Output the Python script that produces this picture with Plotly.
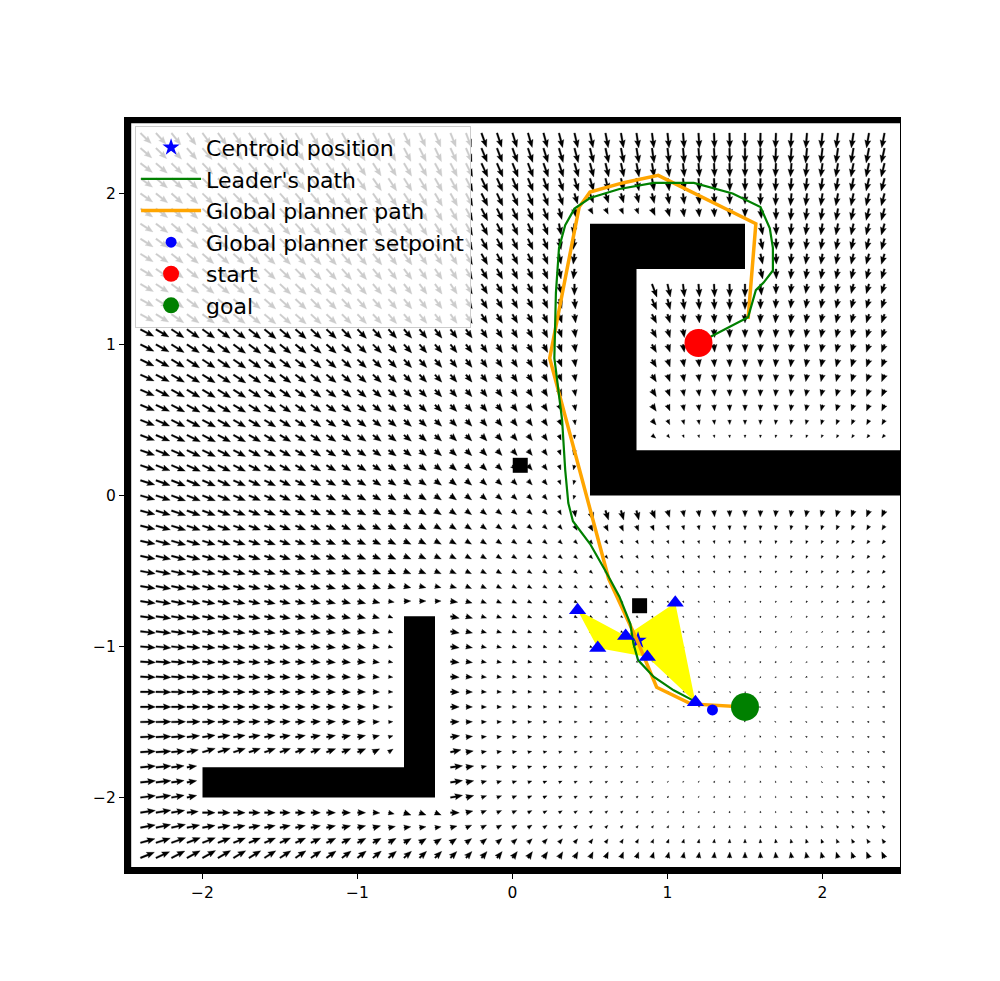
import numpy as np
import plotly.graph_objects as go

# ---------------------------------------------------------------------------
# Map / scene data
# ---------------------------------------------------------------------------
x_range = [-2.5, 2.5]
y_range = [-2.5, 2.5]
tick_vals = [-2, -1, 0, 1, 2]

# static obstacles as rectangles (x0, x1, y0, y1)
obstacle_rects = [
    (0.5, 0.8, 0.0, 1.8),     # vertical bar of the upper-right shape
    (0.5, 1.5, 1.5, 1.8),     # top bar
    (0.5, 2.6, 0.0, 0.3),     # bottom bar running to the right edge
    (-0.7, -0.5, -2.0, -0.8), # lower-left L, vertical bar
    (-2.0, -0.5, -2.0, -1.8), # lower-left L, horizontal bar
]
wall_rects = [
    (-2.6, -2.46, -2.6, 2.6),  # left wall
    (-2.6, 2.6, 2.465, 2.6),   # top wall
    (-2.6, 2.6, -2.6, -2.46),  # bottom wall
]

# dynamic obstacles (black squares)
dyn_obs_x = [0.05, 0.82]
dyn_obs_y = [0.20, -0.73]

start = (1.20, 1.01)
goal = (1.50, -1.40)

# formation agents (blue triangles) and polygon order
agents_x = [0.42, 0.55, 0.73, 0.87, 1.05, 1.18]
agents_y = [-0.76, -1.01, -0.93, -1.07, -0.71, -1.37]
formation_order = [0, 2, 4, 5, 3, 1]

centroid = (0.81, -0.96)
setpoint = (1.29, -1.42)

leader_x = [1.20, 1.52, 1.57, 1.59, 1.62, 1.68, 1.68, 1.66, 1.60, 1.42, 1.17,
            0.91, 0.69, 0.50, 0.40, 0.34, 0.30, 0.28, 0.27, 0.28, 0.32, 0.34,
            0.36, 0.39, 0.45, 0.50, 0.60, 0.69, 0.76, 0.78, 0.81, 0.91, 1.04,
            1.17]
leader_y = [1.01, 1.18, 1.36, 1.38, 1.41, 1.49, 1.64, 1.77, 1.91, 2.00, 2.07,
            2.07, 2.03, 1.97, 1.90, 1.79, 1.64, 1.34, 0.91, 0.83, 0.50, 0.17,
            -0.05, -0.17, -0.25, -0.32, -0.50, -0.67, -0.85, -0.98, -1.09,
            -1.20, -1.29, -1.36]

planner_x = [1.52, 1.57, 0.94, 0.71, 0.50, 0.43, 0.24, 0.62, 0.80, 0.93, 1.15, 1.50]
planner_y = [1.17, 1.80, 2.12, 2.07, 2.01, 1.91, 0.91, -0.55, -0.95, -1.27, -1.38, -1.40]

# quiver grid
grid_x = np.round(np.arange(-2.5, 2.45, 0.1), 2)
grid_y = np.round(np.arange(-2.5, 2.45, 0.1), 2)

K_ATT = 1.0
K_REP = 1.3
D0 = 0.32

# plot-area geometry (px per data unit)
PLOT_W, PLOT_H = 775, 755
PX_X = PLOT_W / (x_range[1] - x_range[0])
PX_Y = PLOT_H / (y_range[1] - y_range[0])


# ---------------------------------------------------------------------------
# Potential field (attraction to goal, repulsion from obstacles)
# ---------------------------------------------------------------------------
def potential_field(xs, ys):
    X, Y = np.meshgrid(xs, ys)
    U = K_ATT * (goal[0] - X)
    V = K_ATT * (goal[1] - Y)
    inside = np.zeros_like(X, dtype=bool)
    for (x0, x1, y0, y1) in obstacle_rects + wall_rects:
        cx = np.clip(X, x0, x1)
        cy = np.clip(Y, y0, y1)
        dx, dy = X - cx, Y - cy
        d = np.hypot(dx, dy)
        inside |= d < 1e-9
        m = (d > 1e-9) & (d < D0)
        f = np.where(m, K_REP * ((D0 - d) / D0) ** 1.5, 0.0)
        dd = np.where(d > 1e-9, d, 1.0)
        U += f * dx / dd
        V += f * dy / dd
    return X, Y, U, V, inside


def arrow_polys(X, Y, U, V, skip, ref_mag=4.0, max_len=15.0, w=1.7):
    hl, hw, hal = 4.5 * w, 1.8 * w, 4.0 * w
    xs, ys = [], []
    for x0, y0, u, v, sk in zip(X.ravel(), Y.ravel(), U.ravel(), V.ravel(), skip.ravel()):
        if sk:
            continue
        mag = np.hypot(u, v)
        if mag == 0:
            continue
        L = max_len * min(1.0, mag / ref_mag) ** 1.3
        ux, uy = u / mag, v / mag
        if L >= hl:
            pts = [(0, -w / 2), (L - hal, -w / 2), (L - hl, -hw), (L, 0),
                   (L - hl, hw), (L - hal, w / 2), (0, w / 2)]
        else:
            s = max(L, w) / hl
            pts = [(a * s, b * s) for a, b in
                   [(0, -w / 2), (hl - hal, -w / 2), (0, -hw), (hl, 0),
                    (0, hw), (hl - hal, w / 2), (0, w / 2)]]
        for a, b in pts:
            xs.append(x0 + (a * ux - b * uy) / PX_X)
            ys.append(y0 + (a * uy + b * ux) / PX_Y)
        xs.append(xs[-7])
        ys.append(ys[-7])
        xs.append(None)
        ys.append(None)
    return xs, ys


def rect_polys(rects):
    xs, ys = [], []
    for (x0, x1, y0, y1) in rects:
        xs += [x0, x1, x1, x0, x0, None]
        ys += [y0, y0, y1, y1, y0, None]
    return xs, ys


X, Y, U, V, inside = potential_field(grid_x, grid_y)
qx, qy = arrow_polys(X, Y, U, V, inside)

fig = go.Figure()

# ── quiver field ─────────────────────────────────────────────────────────
fig.add_trace(go.Scatter(
    x=qx, y=qy, mode="lines", fill="toself", fillcolor="black",
    line=dict(color="black", width=0.3), hoverinfo="skip", showlegend=False,
))

# ── obstacles ────────────────────────────────────────────────────────────
ox, oy = rect_polys(obstacle_rects + wall_rects)
fig.add_trace(go.Scatter(
    x=ox, y=oy, mode="lines", fill="toself", fillcolor="black",
    line=dict(color="black", width=0), hoverinfo="skip", showlegend=False,
))
fig.add_trace(go.Scatter(
    x=dyn_obs_x, y=dyn_obs_y, mode="markers",
    marker=dict(symbol="square", size=15, color="black"),
    showlegend=False,
))

# ── formation polygon ────────────────────────────────────────────────────
poly_x = [agents_x[i] for i in formation_order] + [agents_x[formation_order[0]]]
poly_y = [agents_y[i] for i in formation_order] + [agents_y[formation_order[0]]]
fig.add_trace(go.Scatter(
    x=poly_x, y=poly_y, mode="lines", fill="toself", fillcolor="yellow",
    line=dict(color="yellow", width=0), hoverinfo="skip", showlegend=False,
))

# ── paths, agents and legend entries ─────────────────────────────────────
fig.add_trace(go.Scatter(
    x=[centroid[0]], y=[centroid[1]], mode="markers", name="Centroid position",
    marker=dict(symbol="star", size=13, color="blue"), legendrank=1,
))
fig.add_trace(go.Scatter(
    x=planner_x, y=planner_y, mode="lines", name="Global planner path",
    line=dict(color="orange", width=3.5), legendrank=3,
))
fig.add_trace(go.Scatter(
    x=leader_x, y=leader_y, mode="lines", name="Leader's path",
    line=dict(color="green", width=2.2), legendrank=2,
))
fig.add_trace(go.Scatter(
    x=agents_x, y=agents_y, mode="markers",
    marker=dict(symbol="triangle-up", size=15, color="blue"),
    showlegend=False,
))
fig.add_trace(go.Scatter(
    x=[setpoint[0]], y=[setpoint[1]], mode="markers", name="Global planner setpoint",
    marker=dict(symbol="circle", size=11, color="blue"), legendrank=4,
))
fig.add_trace(go.Scatter(
    x=[start[0]], y=[start[1]], mode="markers", name="start",
    marker=dict(symbol="circle", size=28, color="red"), legendrank=5,
))
fig.add_trace(go.Scatter(
    x=[goal[0]], y=[goal[1]], mode="markers", name="goal",
    marker=dict(symbol="circle", size=28, color="green"), legendrank=6,
))

axis_style = dict(
    showgrid=False, zeroline=False, showline=True, mirror=True,
    linecolor="black", linewidth=1, ticks="outside", ticklen=5,
    tickcolor="black", tickvals=tick_vals,
    tickfont=dict(family="DejaVu Sans", size=15.5, color="black"),
)

# page body has an 8px margin, so the figure is shifted accordingly
fig.update_layout(
    width=992, height=973,
    margin=dict(l=117, r=100, t=110, b=108),
    plot_bgcolor="white", paper_bgcolor="white",
    xaxis=dict(range=x_range, **axis_style),
    yaxis=dict(range=y_range, **axis_style),
    legend=dict(
        x=0.013, y=0.99, xanchor="left", yanchor="top",
        bgcolor="rgba(255,255,255,0.8)", bordercolor="#cccccc", borderwidth=1,
        font=dict(family="DejaVu Sans", size=22, color="black"),
        itemsizing="trace", itemwidth=60, traceorder="normal",
    ),
    font=dict(family="DejaVu Sans"),
)

fig.write_html("out.html")
